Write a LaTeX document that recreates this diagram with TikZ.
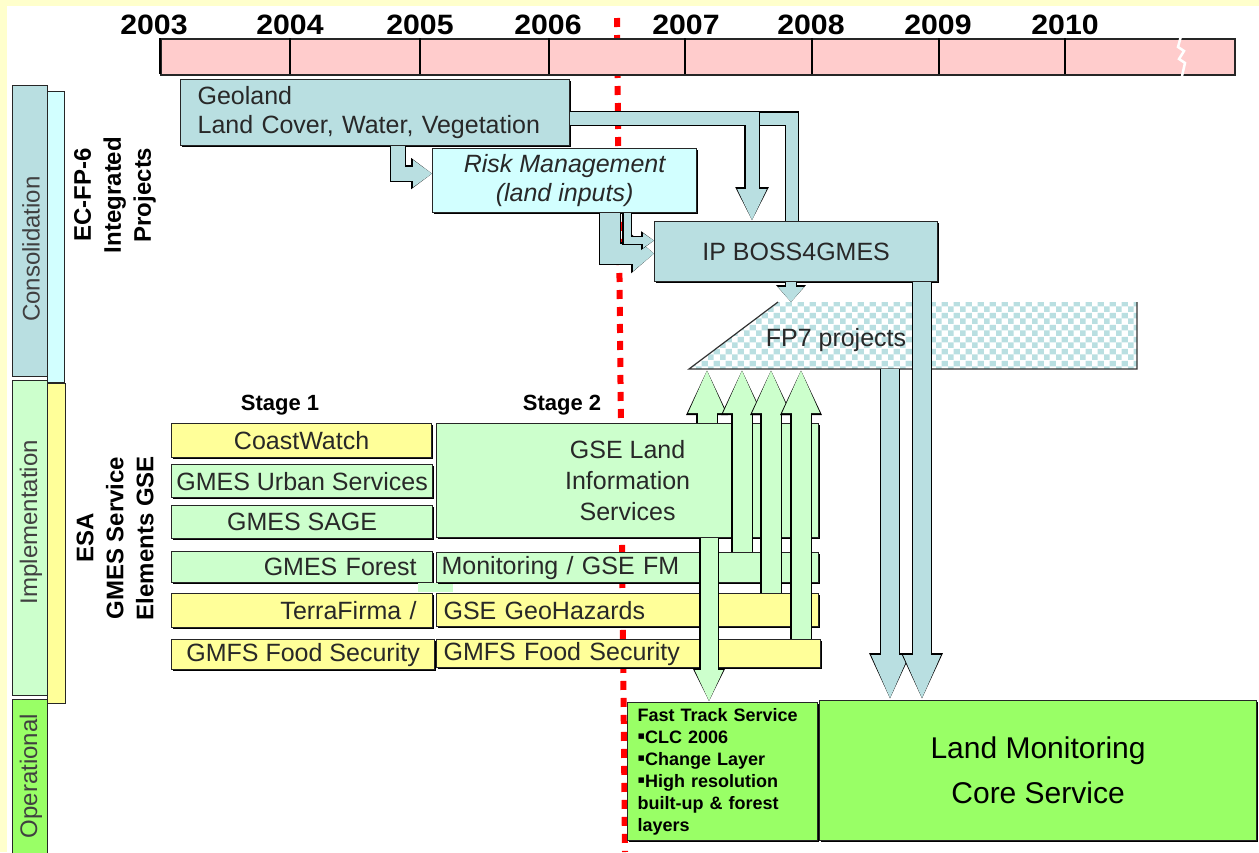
\documentclass[tikz,border=0pt]{standalone}
\usepackage{fontspec}
\setmainfont{Liberation Sans}
\newfontfamily\symfont{DejaVu Sans}
\usetikzlibrary{arrows.meta,shadows,patterns.meta}

\definecolor{pageyel}{RGB}{255,255,204}
\definecolor{timepink}{RGB}{255,204,204}
\definecolor{ipblue}{RGB}{185,223,225}
\definecolor{riskcyan}{RGB}{210,255,255}
\definecolor{gsegreen}{RGB}{204,255,204}
\definecolor{gseyellow}{RGB}{255,255,153}
\definecolor{opgreen}{RGB}{153,255,102}
\definecolor{boxtext}{RGB}{40,40,40}

\newcommand{\sqbullet}{\raisebox{3.5pt}{\symfont\fontsize{11}{11}\selectfont ▪}}

\tikzdeclarepattern{
  name=fpchecks,
  type=colored,
  bottom left={(0pt,0pt)},
  top right={(12pt,12pt)},
  tile size={(12pt,12pt)},
  code={
    \fill[ipblue] (0pt,0pt) rectangle (6pt,6pt);
    \fill[ipblue] (6pt,6pt) rectangle (12pt,12pt);
  }
}

\begin{document}
\begin{tikzpicture}[x=1pt, y=-1pt]
\tikzstyle{box}=[draw=black!85, line width=1.2pt, anchor=north west, inner sep=0pt, align=center, text=boxtext, font=\fontsize{25}{29}\selectfont, drop shadow={shadow xshift=1.5pt, shadow yshift=-1.5pt, opacity=1, fill=black}]
\tikzstyle{bar}=[draw=black!85, line width=1.2pt, anchor=north west, inner sep=0pt]
\tikzstyle{year}=[font=\bfseries\fontsize{28}{28}\selectfont, xscale=1.08]
\tikzstyle{phase}=[rotate=90, text=black!75, font=\fontsize{24}{24}\selectfont]
\tikzstyle{group}=[rotate=90, align=center, font=\bfseries\fontsize{24}{30}\selectfont]
\tikzstyle{stage}=[font=\bfseries\fontsize{22}{22}\selectfont]
\tikzstyle{bluepipe}=[draw=ipblue, line width=12pt, preaction={draw=black, line width=14.5pt}]
\tikzstyle{bluesmall}=[draw=ipblue, line width=13pt, -{Triangle[width=27pt,length=32pt]}, preaction={draw=black, line width=15.5pt, -{Triangle[width=31pt,length=34pt]}}]
\tikzstyle{bluebend}=[draw=ipblue, line width=14pt, -{Triangle[width=26pt,length=19pt]}, preaction={draw=black, line width=16.5pt, -{Triangle[width=30pt,length=21pt]}}]
\tikzstyle{bluebendbig}=[draw=ipblue, line width=20pt, -{Triangle[width=34pt,length=21pt]}, preaction={draw=black, line width=22.5pt, -{Triangle[width=38pt,length=23pt]}}]
\tikzstyle{bluetiny}=[draw=ipblue, line width=7pt, -{Triangle[width=14pt,length=11pt]}, preaction={draw=black, line width=9.5pt, -{Triangle[width=18pt,length=13pt]}}]
\tikzstyle{bluestub}=[draw=ipblue, line width=10pt, -{Triangle[width=25pt,length=15pt]}, preaction={draw=black, line width=12.5pt, -{Triangle[width=29pt,length=17pt]}}]
\tikzstyle{bluearrow}=[draw=ipblue, line width=18pt, -{Triangle[width=34pt,length=45pt]}, preaction={draw=black, line width=20.5pt, -{Triangle[width=38pt,length=47pt]}}]
\tikzstyle{greenup}=[draw=gsegreen, line width=19pt, -{Triangle[width=34pt,length=44pt]}, preaction={draw=black, line width=21.5pt, -{Triangle[width=38pt,length=46pt]}}]
\tikzstyle{greendown}=[draw=gsegreen, line width=17pt, -{Triangle[width=26pt,length=32pt]}, preaction={draw=black, line width=19.5pt, -{Triangle[width=30pt,length=34pt]}}]

\useasboundingbox (0,0) rectangle (1259,852);
\fill[pageyel] (0,0) rectangle (1259,852);
\fill[white] (7,6) rectangle (1259,852);

% today line
\draw[red, line width=6pt, dash pattern=on 9pt off 8pt] (617,18) -- (625,852);

% time axis
\node[bar, fill=timepink, line width=1.8pt, minimum width=1074pt, minimum height=36pt] (axis) at (160,38) {};
\foreach \x/\lx/\yr in {160/154/2003, 290/290/2004, 420/420/2005, 549/548/2006, 685/686/2007, 812/811/2008, 939/938/2009, 1065/1065/2010}{
  \node[year] (y\yr) at (\lx,25) {\yr};
  \draw[line width=1.8pt] (\x,38) -- (\x,74);
}
\draw[white, line width=2.5pt] (1181,36) -- (1178,47) -- (1184,51) -- (1179,59) -- (1185,63) -- (1182,76);

% phases
\node[bar, fill=riskcyan, minimum width=17pt, minimum height=291pt] (consside) at (47,91) {};
\node[bar, fill=gseyellow, minimum width=18pt, minimum height=320pt] (implside) at (47,383) {};
\node[bar, fill=ipblue, minimum width=35pt, minimum height=291pt] (cons) at (12,85) {};
\node[bar, fill=gsegreen, minimum width=35pt, minimum height=315pt] (impl) at (12,380) {};
\node[bar, fill=opgreen, minimum width=35pt, minimum height=160pt] (oper) at (12,699) {};
\node[phase] (constext) at (31,249) {Consolidation};
\node[phase] (impltext) at (31,522) {Implementation};
\node[phase] (opertext) at (31,776) {Operational};

\node[group] (ecfp) at (115,195) {EC-FP-6\\Integrated\\Projects};
\node[group] (esa) at (115,538) {ESA\\GMES Service\\Elements GSE};

% integrated projects
\node[box, fill=ipblue, minimum width=389pt, minimum height=66pt, text width=355pt, inner xsep=17pt, align=left] (geo) at (180,79) {Geoland\\Land Cover, Water, Vegetation};
\node[box, fill=riskcyan, minimum width=264pt, minimum height=64pt, font=\itshape\fontsize{25}{29}\selectfont] (risk) at (432,148) {Risk Management\\(land inputs)};
\node[box, fill=ipblue, minimum width=283pt, minimum height=60pt] (boss) at (654,221) {IP BOSS4GMES};

% service elements
\node[stage] (st1) at (280,405) {Stage 1};
\node[stage] (st2) at (562,405) {Stage 2};
\node[box, fill=gseyellow, minimum width=260pt, minimum height=34pt] (coast) at (171,423) {CoastWatch};
\node[box, fill=gsegreen, minimum width=261pt, minimum height=33pt] (urban) at (171,464) {GMES Urban Services};
\node[box, fill=gsegreen, minimum width=261pt, minimum height=33pt] (sage) at (171,505) {GMES SAGE};
\node[box, fill=gsegreen, minimum width=261pt, minimum height=31pt, text width=229pt, inner xsep=16pt, align=right] (forest) at (171,551) {GMES Forest};
\node[box, fill=gseyellow, minimum width=261pt, minimum height=34pt, text width=229pt, inner xsep=16pt, align=right] (terra) at (171,593) {TerraFirma /};
\node[box, fill=gseyellow, minimum width=263pt, minimum height=30pt] (food1) at (171,639) {GMFS Food Security};
\fill[gsegreen] (418,583) rectangle (453,592);
\node[box, fill=gsegreen, minimum width=382pt, minimum height=114pt, font=\fontsize{25}{31}\selectfont] (gse) at (436,423) {GSE Land\\Information\\Services};
\node[box, fill=gsegreen, minimum width=382pt, minimum height=30pt, text width=372pt, inner xsep=5pt, align=left] (monit) at (436,552) {Monitoring / GSE FM};
\node[box, fill=gseyellow, minimum width=382pt, minimum height=33pt, text width=368pt, inner xsep=7pt, align=left] (geoh) at (436,593) {GSE GeoHazards};
\node[box, fill=gseyellow, minimum width=384pt, minimum height=28pt, text width=370pt, inner xsep=7pt, align=left] (food2) at (436,639) {GMFS Food Security};

% operational
\node[box, fill=opgreen, minimum width=190pt, minimum height=138pt, text width=170pt, inner xsep=10pt, align=left, text=black, font=\bfseries\fontsize{18}{22}\selectfont] (fast) at (627,702) {Fast Track Service\\\sqbullet CLC 2006\\\sqbullet Change Layer\\\sqbullet High resolution\\built-up \& forest\\layers};
\node[box, fill=opgreen, minimum width=437pt, minimum height=140pt, text=black, font=\fontsize{30}{45}\selectfont] (core) at (819,700) {Land Monitoring\\Core Service};

% FP7
\path[pattern=fpchecks] (689,369) -- (778,302) -- (1137,302) -- (1137,369) -- cycle;
\draw[black!80, line width=1.2pt] (1137,302) -- (1137,369) -- (689,369) -- (778,302);
\node[text=boxtext, font=\fontsize{25}{29}\selectfont] (fp7) at (836,340) {FP7 projects};
\coordinate (fp7top) at (913,302);
\coordinate (fp7bot) at (913,369);

% arrow columns
\coordinate (xgeorisk) at (398,0);
\coordinate (xriskboss) at (610,0);
\coordinate (xriskin) at (627,0);
\coordinate (xgeoboss) at (752,0);
\coordinate (xgeopipe) at (792,0);
\coordinate (xbossfp) at (791,0);
\coordinate (xfpcore) at (890,0);
\coordinate (xbosscore) at (922,0);
\coordinate (xup1) at (707,0);
\coordinate (xup2) at (742,0);
\coordinate (xup3) at (771,0);
\coordinate (xup4) at (801,0);
\coordinate (xdown) at (709,0);

\draw[bluepipe] ([yshift=-6pt]geo.east) -| (boss.north -| xgeopipe);
\draw[bluesmall] ([yshift=-6pt]geo.east) -| (boss.north -| xgeoboss);
\draw[bluebend] (geo.south -| xgeorisk) |- ([yshift=7pt]risk.west);
\draw[bluebendbig] (risk.south -| xriskboss) |- ([yshift=-2pt]boss.west);
\draw[bluetiny] (risk.south -| xriskin) |- ([yshift=11pt]boss.west);
\draw[bluestub] (boss.south -| xbossfp) -- (fp7top -| xbossfp);
\draw[bluearrow] (fp7bot -| xfpcore) -- (core.north -| xfpcore);
\draw[bluearrow] (boss.south -| xbosscore) -- (core.north -| xbosscore);

\draw[greenup] (gse.north -| xup1) -- (fp7bot -| xup1);
\draw[greenup] (monit.north -| xup2) -- (fp7bot -| xup2);
\draw[greenup] (geoh.north -| xup3) -- (fp7bot -| xup3);
\draw[greenup] (food2.north -| xup4) -- (fp7bot -| xup4);
\draw[greendown] (gse.south -| xdown) -- (fast.north -| xdown);
\end{tikzpicture}
\end{document}
